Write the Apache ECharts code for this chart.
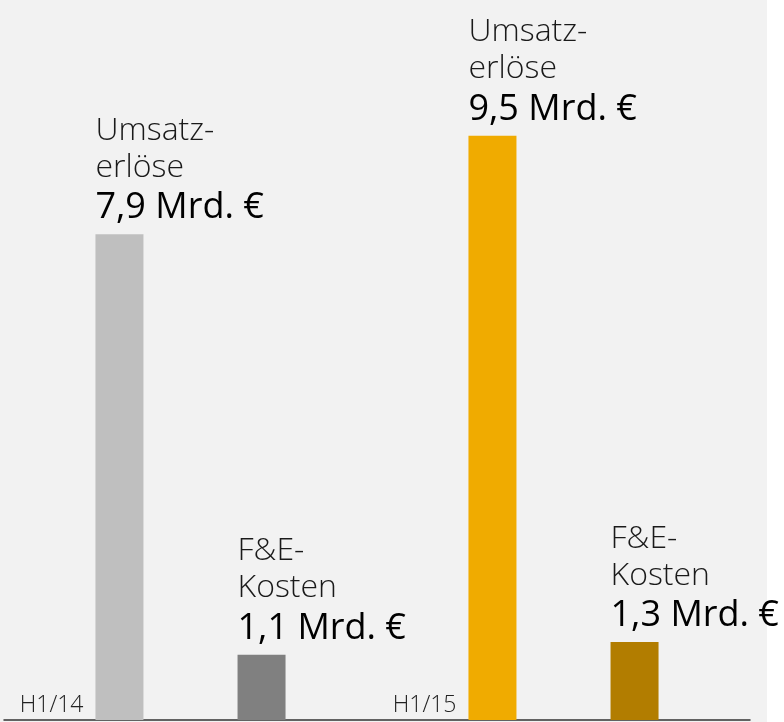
<!DOCTYPE html>
<html>
<head>
<meta charset="utf-8">
<script src="https://cdn.jsdelivr.net/npm/echarts@6/dist/echarts.min.js"></script>
<style>
  html, body { margin: 0; padding: 0; background: #fff; }
  #chart {
    width: 784px; height: 722px;
    background: linear-gradient(to right, #f2f2f2 767px, #ffffff 767px);
  }
</style>
</head>
<body>
<div id="chart"></div>
<script>
// periods and values (Mrd. €)
var periods = ['H1/14', 'H1/15'];
var umsatz = [7.9, 9.5];
var fueKosten = [1.06, 1.27];
var umsatzName = 'Umsatz-\nerlöse';
var fueName = 'F&E-\nKosten';
var umsatzColors = ['#bfbfbf', '#f0ab00'];
var fueColors = ['#808080', '#b27d00'];

var chart = echarts.init(document.getElementById('chart'));

function fmt(v) {
  return v.toFixed(1).replace('.', ',') + ' Mrd. €';
}

function makeLabel(name) {
  return {
    show: true,
    position: [0, -5],
    align: 'left',
    verticalAlign: 'bottom',
    formatter: function (p) {
      return '{n|' + name.split('\n').join('}\n{n|') + '}\n{v|' + fmt(p.value) + '}';
    },
    rich: {
      n: { fontFamily: 'Open Sans', fontWeight: 300, fontSize: 32, lineHeight: 37, color: '#1a1a1a' },
      v: { fontFamily: 'Open Sans', fontWeight: 400, fontSize: 36, lineHeight: 43, color: '#000' }
    }
  };
}

var option = {
  backgroundColor: 'transparent',
  animation: false,
  grid: { left: 4, right: 34, top: 105, bottom: 2 },
  xAxis: {
    type: 'category',
    data: periods,
    axisLine: { lineStyle: { color: '#333', width: 1.5 } },
    axisTick: { show: false },
    axisLabel: {
      inside: true,
      margin: 3,
      align: 'right',
      verticalAlign: 'bottom',
      padding: [0, 107, 0, 0],
      fontFamily: 'Open Sans',
      fontWeight: 300,
      fontSize: 23,
      color: '#222'
    }
  },
  yAxis: { type: 'value', min: 0, max: 10, show: false },
  series: [
    {
      name: 'Umsatzerlöse',
      type: 'bar',
      barWidth: 48,
      barGap: '196%',
      data: umsatz.map(function (v, i) {
        return { value: v, itemStyle: { color: umsatzColors[i] } };
      }),
      label: makeLabel(umsatzName)
    },
    {
      name: 'F&E-Kosten',
      type: 'bar',
      barWidth: 48,
      barGap: '196%',
      data: fueKosten.map(function (v, i) {
        return { value: v, itemStyle: { color: fueColors[i] } };
      }),
      label: makeLabel(fueName)
    }
  ]
};

chart.setOption(option);
</script>
</body>
</html>
